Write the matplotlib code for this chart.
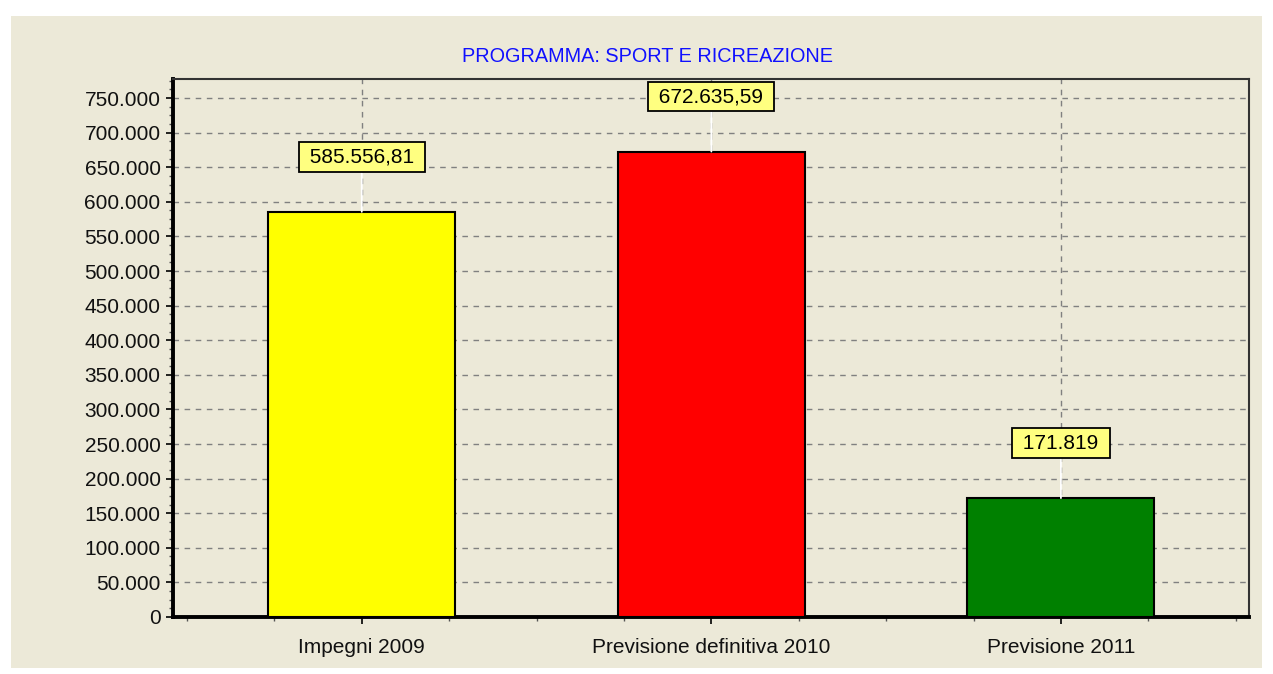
import matplotlib
matplotlib.use("Agg")
import matplotlib.pyplot as plt
from matplotlib.ticker import FuncFormatter, MultipleLocator, FixedLocator
from matplotlib.patches import Rectangle

# Data
categories = ["Impegni 2009", "Previsione definitiva 2010", "Previsione 2011"]
values = [585556.81, 672635.59, 171819]
bar_colors = ["#FFFF00", "#FF0000", "#008000"]
title = "PROGRAMMA: SPORT E RICREAZIONE"

BG = "#ECE9D8"


def it_format(v, decimals=True):
    # Italian number format: 585.556,81
    if decimals and abs(v - round(v)) > 1e-6:
        s = f"{v:,.2f}"
    else:
        s = f"{v:,.0f}"
    return s.replace(",", "#").replace(".", ",").replace("#", ".")


plt.rcParams['font.family'] = ['Liberation Sans', 'DejaVu Sans']
fig = plt.figure(figsize=(12.73, 6.74), dpi=100, facecolor="white")

# beige panel
fig.patches.append(Rectangle((11 / 1273, 1 - 668 / 674), 1251 / 1273, 652 / 674,
                             transform=fig.transFigure, facecolor=BG, edgecolor="none", zorder=-1))

ax = fig.add_axes([173 / 1273, 1 - 617 / 674, 1076 / 1273, 538 / 674])
ax.set_facecolor(BG)

x = list(range(len(categories)))
ax.bar(x, values, width=0.535, color=bar_colors, edgecolor="black", linewidth=1.5, zorder=3)

ax.set_xlim(-0.54, 2.538)
ax.set_ylim(0, 777500)

ax.yaxis.set_major_locator(MultipleLocator(50000))
ax.yaxis.set_minor_locator(MultipleLocator(12500))
ax.yaxis.set_major_formatter(FuncFormatter(lambda v, p: it_format(v, False)))
ax.set_xticks(x)
ax.set_xticklabels(categories)
ax.xaxis.set_minor_locator(FixedLocator([i * 0.25 - 0.5 for i in range(13)]))

ax.grid(True, which="major", color="#808080", linestyle=(0, (4, 4)), linewidth=1.0, zorder=0)

ax.tick_params(axis="both", which="major", labelsize=15, colors="black", length=5, width=1.2,
               labelcolor="#111111")
ax.tick_params(axis="y", which="major", pad=4)
ax.tick_params(axis="x", which="major", pad=10)
ax.tick_params(axis="both", which="minor", length=3, width=1.0, color="#555555")

for side in ["left", "bottom"]:
    ax.spines[side].set_linewidth(2.8)
    ax.spines[side].set_color("black")
for side in ["top", "right"]:
    ax.spines[side].set_linewidth(1.5)
    ax.spines[side].set_color("#333333")

# value labels
for xi, v in zip(x, values):
    ax.annotate(" " + it_format(v) + " ", xy=(xi, v), xytext=(0, 55), textcoords="offset pixels",
                ha="center", va="center", fontsize=15, color="black",
                bbox=dict(boxstyle="square,pad=0.25", facecolor="#FFFF80", edgecolor="black", linewidth=1.3),
                arrowprops=dict(arrowstyle="-", color="white", linewidth=1.3, shrinkA=0, shrinkB=0),
                zorder=5)

fig.text(647 / 1273, 1 - 56 / 674, title, ha="center", va="center", fontsize=14.3, color="#1010FF")

fig.savefig("out.png", dpi=100, facecolor="white")
